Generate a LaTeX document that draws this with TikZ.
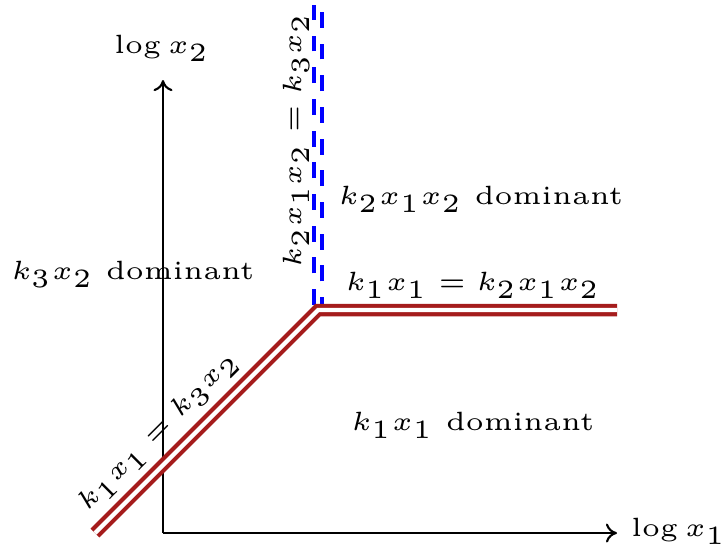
\documentclass[tikz,border=0pt]{standalone}
\usetikzlibrary{arrows.meta}
\definecolor{dred}{RGB}{165,28,28}
\begin{document}
\begin{tikzpicture}[x=0.1893pt,y=-0.1893pt,
 lab/.style={font=\fontsize{5}{6}\selectfont, inner sep=0pt},
 axis/.style={line width=0.4pt,-{To[length=2.1pt,width=3.6pt]}},
 redline/.style={draw=dred,line width=0.78pt,double=white,double distance=0.8pt},
 blueline/.style={draw=blue,line width=0.7pt,dash pattern=on 3pt off 3pt}]
\useasboundingbox (0,0) rectangle (725,550);
\coordinate (O) at (163,533);
\coordinate (X) at (617,533);
\coordinate (Y) at (163,80);
\coordinate (C) at (318,310);
\coordinate (L) at (95,533);
\coordinate (R) at (617,310);
\coordinate (BL0) at (314,305);
\coordinate (BL1) at (314,5);
\coordinate (BR0) at (322,313);
\coordinate (BR1) at (322,5);
\draw[axis] (O) -- (X);
\draw[axis] (O) -- (Y);
\node[lab] (lx1) at (679,531) {$\log x_1$};
\node[lab] (lx2) at (162,48) {$\log x_2$};
\draw[blueline] (BL0) -- (BL1);
\draw[blueline] (BR0) -- (BR1);
\draw[redline] (L) -- (C) -- (R);
\node[lab] (d3) at (133,274) {$k_3x_2$ dominant};
\node[lab] (d2) at (481,199) {$k_2x_1x_2$ dominant};
\node[lab] (d1) at (473,425) {$k_1x_1$ dominant};
\node[lab] (e12) at (473,285) {$k_1x_1 = k_2x_1x_2$};
\node[lab,rotate=90] (e23) at (296,140) {$k_2x_1x_2 = k_3x_2$};
\node[lab,rotate=45] (e13) at (159,432) {$k_1x_1 = k_3x_2$};
\end{tikzpicture}
\end{document}
